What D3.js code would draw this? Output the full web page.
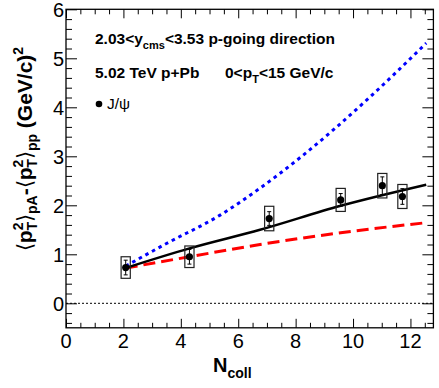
<!DOCTYPE html>
<html>
<head>
<meta charset="utf-8">
<script src="https://cdn.jsdelivr.net/npm/d3@7"></script>
<style>
  body { margin: 0; background: #fff; }
  svg { display: block; font-family: "Liberation Sans", Arial, sans-serif; }
</style>
</head>
<body>
<div id="chart"></div>
<script>
// J/psi data points
const ncoll = [2.08, 4.3, 7.08, 9.57, 11.02, 11.72];
const dpt2 = [0.73, 0.95, 1.73, 2.11, 2.40, 2.18];
const statErr = [0.15, 0.15, 0.14, 0.13, 0.18, 0.16];
const systErr = [0.22, 0.22, 0.25, 0.235, 0.25, 0.245];

// model curves
const modelX = [2.08, 4.3, 6.76, 9.57, 12.55];
const modelBlack = [0.72, 1.12, 1.50, 1.99, 2.42];
const modelRed = [0.72, 0.95, 1.20, 1.44, 1.645];
const blueX = [2.08, 3.5, 5.37, 6.76, 8.15, 10.48, 12.55];
const modelBlue = [0.76, 1.22, 1.80, 2.35, 2.97, 4.15, 5.31];

const xTicks = [0, 2, 4, 6, 8, 10, 12];
const yTicks = [0, 1, 2, 3, 4, 5, 6];

const width = 439, height = 388;
const margin = { top: 9.3, right: 5.6, bottom: 60.2, left: 66 };

const svg = d3.select("#chart").append("svg")
  .attr("width", width)
  .attr("height", height);

const x = d3.scaleLinear().domain([0, 12.8]).range([margin.left, width - margin.right]);
const y = d3.scaleLinear().domain([-0.5, 6]).range([height - margin.bottom, margin.top]);

const x0 = x.range()[0], x1 = x.range()[1];
const y0 = y.range()[0], y1 = y.range()[1];

// ticks: majors and minors on all four sides, pointing inward
const xMinor = d3.range(0, 12.81, 0.5).filter(v => v % 2 !== 0);
const yMinor = d3.range(-0.4, 6.01, 0.2).map(v => +v.toFixed(1)).filter(v => !Number.isInteger(v));

const addAxis = (axis, tr) => {
  const g = svg.append("g").attr("transform", tr).call(axis);
  g.select(".domain").remove();
  g.selectAll("line").attr("stroke", "#000").attr("stroke-width", 1);
  return g;
};

addAxis(d3.axisBottom(x).tickValues(xTicks).tickSize(-9).tickFormat(""), `translate(0,${y0})`);
addAxis(d3.axisBottom(x).tickValues(xMinor).tickSize(-5).tickFormat(""), `translate(0,${y0})`);
addAxis(d3.axisTop(x).tickValues(xTicks).tickSize(-9).tickFormat(""), `translate(0,${y1})`);
addAxis(d3.axisTop(x).tickValues(xMinor).tickSize(-5).tickFormat(""), `translate(0,${y1})`);
addAxis(d3.axisLeft(y).tickValues(yTicks).tickSize(-11).tickFormat(""), `translate(${x0},0)`);
addAxis(d3.axisLeft(y).tickValues(yMinor).tickSize(-6).tickFormat(""), `translate(${x0},0)`);
addAxis(d3.axisRight(y).tickValues(yTicks).tickSize(-11).tickFormat(""), `translate(${x1},0)`);
addAxis(d3.axisRight(y).tickValues(yMinor).tickSize(-6).tickFormat(""), `translate(${x1},0)`);

// tick labels
svg.append("g").selectAll("text")
  .data(xTicks)
  .join("text")
  .attr("x", d => x(d))
  .attr("y", 348)
  .attr("text-anchor", "middle")
  .style("font-size", "20px")
  .text(d => d);

svg.append("g").selectAll("text")
  .data(yTicks)
  .join("text")
  .attr("x", 64)
  .attr("y", d => y(d))
  .attr("dy", "0.36em")
  .attr("text-anchor", "end")
  .style("font-size", "20px")
  .text(d => d);

// frame
svg.append("rect")
  .attr("x", x0).attr("y", y1)
  .attr("width", x1 - x0).attr("height", y0 - y1)
  .attr("fill", "none")
  .attr("stroke", "#000")
  .attr("stroke-width", 1.3);

// zero line
svg.append("line")
  .attr("x1", x(0)).attr("x2", x(12.8))
  .attr("y1", y(0)).attr("y2", y(0))
  .attr("stroke", "#000")
  .attr("stroke-width", 1)
  .attr("stroke-dasharray", "2,2");

// model curves
const line = d3.line().x(d => x(d[0])).y(d => y(d[1])).curve(d3.curveMonotoneX);

svg.append("path")
  .attr("d", line(blueX.map((v, i) => [v, modelBlue[i]])))
  .attr("fill", "none")
  .attr("stroke", "#0000ff")
  .attr("stroke-width", 3)
  .attr("stroke-dasharray", "3.5,4");

svg.append("path")
  .attr("d", line(modelX.map((v, i) => [v, modelRed[i]])))
  .attr("fill", "none")
  .attr("stroke", "#ff0000")
  .attr("stroke-width", 3)
  .attr("stroke-dasharray", "12,6");

svg.append("path")
  .attr("d", line(modelX.map((v, i) => [v, modelBlack[i]])))
  .attr("fill", "none")
  .attr("stroke", "#000")
  .attr("stroke-width", 2.5);

// data: syst boxes, stat bars, markers
const pts = ncoll.map((v, i) => ({ n: v, val: dpt2[i], stat: statErr[i], syst: systErr[i] }));
const boxHalf = 0.16;

const pg = svg.append("g").selectAll("g").data(pts).join("g");

pg.append("rect")
  .attr("x", d => x(d.n - boxHalf))
  .attr("width", d => x(d.n + boxHalf) - x(d.n - boxHalf))
  .attr("y", d => y(d.val + d.syst))
  .attr("height", d => y(d.val - d.syst) - y(d.val + d.syst))
  .attr("fill", "none")
  .attr("stroke", "#222")
  .attr("stroke-width", 1.2);

pg.append("line")
  .attr("x1", d => x(d.n)).attr("x2", d => x(d.n))
  .attr("y1", d => y(d.val - d.stat)).attr("y2", d => y(d.val + d.stat))
  .attr("stroke", "#000");

pg.selectAll(".cap")
  .data(d => [d.val - d.stat, d.val + d.stat].map(v => ({ n: d.n, v })))
  .join("line")
  .attr("class", "cap")
  .attr("x1", d => x(d.n) - 2).attr("x2", d => x(d.n) + 2)
  .attr("y1", d => y(d.v)).attr("y2", d => y(d.v))
  .attr("stroke", "#000");

pg.append("circle")
  .attr("cx", d => x(d.n))
  .attr("cy", d => y(d.val))
  .attr("r", 3.6)
  .attr("fill", "#000");

// annotation text
const t1 = svg.append("text")
  .attr("x", 95).attr("y", 44)
  .style("font-size", "15.5px").style("font-weight", "bold");
t1.append("tspan").text("2.03<y");
t1.append("tspan").attr("dy", 5).style("font-size", "11px").text("cms");
t1.append("tspan").attr("dy", -5).text("<3.53 p-going direction");

svg.append("text")
  .attr("x", 95).attr("y", 78)
  .style("font-size", "15.5px").style("font-weight", "bold")
  .text("5.02 TeV p+Pb");

const t2 = svg.append("text")
  .attr("x", 225).attr("y", 78)
  .style("font-size", "15.5px").style("font-weight", "bold");
t2.append("tspan").text("0<p");
t2.append("tspan").attr("dy", 5).style("font-size", "11px").text("T");
t2.append("tspan").attr("dy", -5).text("<15 GeV/c");

svg.append("circle").attr("cx", 99).attr("cy", 104).attr("r", 3.3).attr("fill", "#000");
svg.append("text")
  .attr("x", 107).attr("y", 109)
  .style("font-size", "15.5px")
  .text("J/\u03c8");

// x axis title
const xt = svg.append("text")
  .attr("x", 213).attr("y", 372)
  .style("font-weight", "bold");
xt.append("tspan").style("font-size", "20px").text("N");
xt.append("tspan").attr("dy", 6).style("font-size", "14px").text("coll");

// y axis title
const yt = svg.append("text")
  .attr("transform", "translate(32,149) rotate(-90)")
  .attr("text-anchor", "middle")
  .style("font-size", "21px")
  .style("font-weight", "bold");
const bracketPart = (sub, last) => {
  yt.append("tspan").style("font-weight", "normal").text("\u27e8");
  yt.append("tspan").text("p");
  yt.append("tspan").attr("dy", -9).style("font-size", "14px").text("2");
  yt.append("tspan").attr("dx", -8).attr("dy", 14).style("font-size", "14px").text("T");
  yt.append("tspan").attr("dy", -5).style("font-weight", "normal").text("\u27e9");
  yt.append("tspan").attr("dy", 5).style("font-size", "14px").text(sub);
  yt.append("tspan").attr("dy", -5).text(last);
};
bracketPart("pA", "-");
bracketPart("pp", " (GeV/c)");
yt.append("tspan").attr("dy", -9).style("font-size", "14px").text("2");
</script>
</body>
</html>
